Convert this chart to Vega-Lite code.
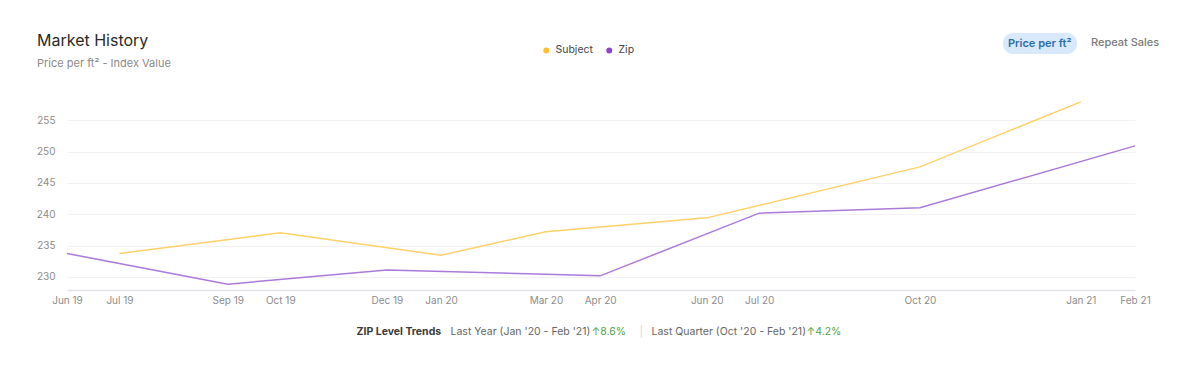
{
  "$schema": "https://vega.github.io/schema/vega-lite/v6.json",
  "width": 1068,
  "height": 188,
  "autosize": {"type": "none"},
  "padding": {"left": 67, "top": 102, "right": 65, "bottom": 94},
  "background": "white",
  "title": {
    "text": "Market History",
    "subtitle": "Price per ft² - Index Value",
    "anchor": "start",
    "frame": "group",
    "dx": -30,
    "offset": -36,
    "fontSize": 16,
    "fontWeight": 400,
    "color": "#2a2a2a",
    "subtitleFontSize": 11,
    "subtitleColor": "#8a8a8a",
    "subtitlePadding": 9
  },
  "config": {
    "font": "Inter",
    "view": {"stroke": null}
  },
  "layer": [
    {
      "data": {
        "values": [
          {"series": "Subject", "date": "2019-07-01", "value": 233.73},
          {"series": "Subject", "date": "2019-10-01", "value": 237.02},
          {"series": "Subject", "date": "2020-01-01", "value": 233.46},
          {"series": "Subject", "date": "2020-03-01", "value": 237.18},
          {"series": "Subject", "date": "2020-06-01", "value": 239.41},
          {"series": "Subject", "date": "2020-10-01", "value": 247.55},
          {"series": "Subject", "date": "2021-01-01", "value": 257.92},
          {"series": "Zip", "date": "2019-06-01", "value": 233.73},
          {"series": "Zip", "date": "2019-09-01", "value": 228.83},
          {"series": "Zip", "date": "2019-12-01", "value": 231.11},
          {"series": "Zip", "date": "2020-04-01", "value": 230.16},
          {"series": "Zip", "date": "2020-07-01", "value": 240.16},
          {"series": "Zip", "date": "2020-10-01", "value": 241.01},
          {"series": "Zip", "date": "2021-02-01", "value": 250.9}
        ]
      },
      "mark": {"type": "line", "strokeWidth": 1.5, "strokeOpacity": 0.72, "clip": false},
      "encoding": {
        "x": {
          "field": "date",
          "type": "temporal",
          "scale": {
            "type": "utc",
            "domain": [
              {"year": 2019, "month": 6, "date": 1, "utc": true},
              {"year": 2021, "month": 2, "date": 1, "utc": true}
            ]
          },
          "axis": {
            "title": null,
            "values": [
              {"year": 2019, "month": 6, "date": 1, "utc": true},
              {"year": 2019, "month": 7, "date": 1, "utc": true},
              {"year": 2019, "month": 9, "date": 1, "utc": true},
              {"year": 2019, "month": 10, "date": 1, "utc": true},
              {"year": 2019, "month": 12, "date": 1, "utc": true},
              {"year": 2020, "month": 1, "date": 1, "utc": true},
              {"year": 2020, "month": 3, "date": 1, "utc": true},
              {"year": 2020, "month": 4, "date": 1, "utc": true},
              {"year": 2020, "month": 6, "date": 1, "utc": true},
              {"year": 2020, "month": 7, "date": 1, "utc": true},
              {"year": 2020, "month": 10, "date": 1, "utc": true},
              {"year": 2021, "month": 1, "date": 1, "utc": true},
              {"year": 2021, "month": 2, "date": 1, "utc": true}
            ],
            "labelExpr": "utcFormat(datum.value, '%b %y')",
            "labelFontSize": 10,
            "labelColor": "#8c8c8c",
            "ticks": false,
            "labelPadding": 5,
            "domainColor": "#e2e2ea",
            "domainWidth": 1.5,
            "grid": false,
            "labelOverlap": false,
            "labelFlush": false
          }
        },
        "y": {
          "field": "value",
          "type": "quantitative",
          "scale": {"domain": [227.9, 257.9], "nice": false, "zero": false},
          "axis": {
            "title": null,
            "values": [230, 235, 240, 245, 250, 255],
            "domain": false,
            "ticks": false,
            "labelPadding": 12,
            "labelFontSize": 10,
            "labelColor": "#8c8c8c",
            "gridColor": "#f2f2f4",
            "gridWidth": 1
          }
        },
        "color": {
          "field": "series",
          "type": "nominal",
          "scale": {"domain": ["Subject", "Zip"], "range": ["#FFBF2F", "#8A46CC"]},
          "legend": {
            "orient": "none",
            "legendX": 474,
            "legendY": -57,
            "direction": "horizontal",
            "title": null,
            "symbolType": "circle",
            "symbolSize": 9,
            "symbolStrokeWidth": 3,
            "symbolOpacity": 1,
            "labelFontSize": 10.5,
            "labelColor": "#444444",
            "labelOffset": 4,
            "columnPadding": 8
          }
        }
      }
    },
    {
      "data": {
        "values": [
          {"trend": "ZIP Level Trends"},
          {"trend": "Last Year (Jan '20 - Feb '21)"},
          {"trend": "↑8.6%"},
          {"trend": "|"},
          {"trend": "Last Quarter (Oct '20 - Feb '21)"},
          {"trend": "↑4.2%"}
        ]
      },
      "mark": {"type": "point", "opacity": 0},
      "encoding": {
        "shape": {
          "field": "trend",
          "type": "nominal",
          "sort": null,
          "legend": {
            "orient": "none",
            "legendX": 290,
            "legendY": 225,
            "direction": "horizontal",
            "title": null,
            "symbolSize": 0,
            "symbolOpacity": 0,
            "labelOffset": {"expr": "indexof(datum.label, 'Last') === 0 ? -2 : indexof(datum.label, '|') === 0 ? 2 : indexof(datum.label, '↑') === 0 ? -10 : -11"},
            "columnPadding": 0,
            "labelFontSize": 10.5,
            "labelLimit": 400,
            "labelColor": {"expr": "indexof(datum.label, '↑') === 0 ? '#52a447' : indexof(datum.label, '|') >= 0 ? '#d4d4d4' : indexof(datum.label, 'ZIP') === 0 ? '#3a3a3a' : '#666666'"},
            "labelFontWeight": {"expr": "indexof(datum.label, 'ZIP') === 0 ? 700 : 400"}
          }
        }
      }
    },
    {
      "data": {"values": [{"tab": "Price per ft²"}]},
      "mark": {"type": "point", "opacity": 0},
      "encoding": {
        "strokeDash": {
          "field": "tab",
          "type": "nominal",
          "legend": {
            "orient": "none",
            "legendX": 936,
            "legendY": -69,
            "title": null,
            "symbolSize": 0,
            "symbolOpacity": 0,
            "labelOffset": -11,
            "padding": 5,
            "fillColor": "#d7e9fa",
            "cornerRadius": 10,
            "labelFontSize": 11,
            "labelFontWeight": 600,
            "labelColor": "#2c6db0"
          }
        }
      }
    },
    {
      "data": {"values": [{"tab2": "Repeat Sales"}]},
      "mark": {"type": "point", "size": 0, "strokeWidth": 0},
      "encoding": {
        "opacity": {
          "field": "tab2",
          "type": "ordinal",
          "legend": {
            "orient": "none",
            "legendX": 1024,
            "legendY": -65,
            "title": null,
            "symbolSize": 0,
            "symbolOpacity": 0,
            "labelOffset": -11,
            "padding": 0,
            "labelFontSize": 11,
            "labelFontWeight": 500,
            "labelColor": "#7a7a7a"
          }
        }
      }
    }
  ]
}
